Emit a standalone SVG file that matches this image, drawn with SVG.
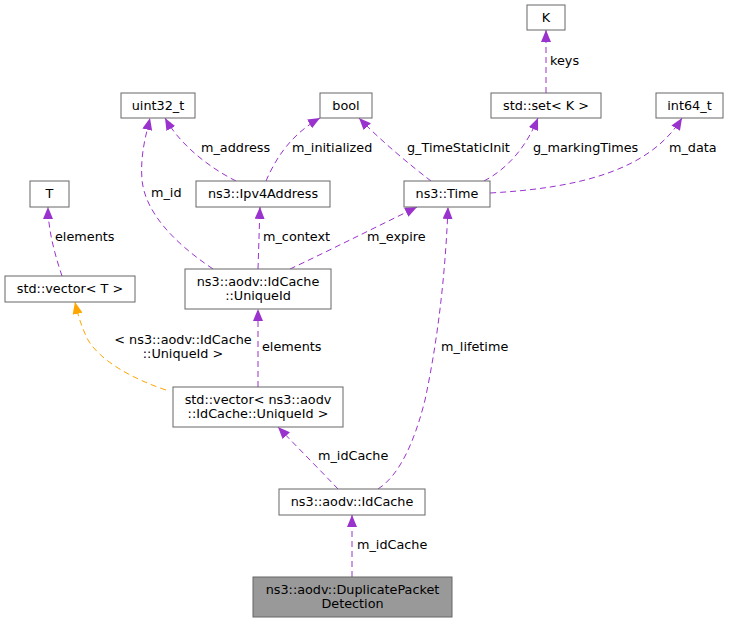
<svg xmlns="http://www.w3.org/2000/svg" width="729" height="623" viewBox="0 0 729 623">
<style>
.n rect{fill:#ffffff;stroke:#666666;stroke-width:1}
.n.main rect{fill:#999999}
text{font-family:"DejaVu Sans","Liberation Sans",sans-serif;font-size:12.8px;fill:#000000}
.n text{text-anchor:middle}
.e path{fill:none;stroke:#9a32cd;stroke-width:1;stroke-dasharray:6,4;marker-end:url(#ap)}
.e path.o{stroke:#ffa500;marker-end:url(#ao)}
</style>
<defs>
<marker id="ap" markerUnits="userSpaceOnUse" viewBox="0 0 12 10" markerWidth="12" markerHeight="10" refX="12" refY="5" orient="auto"><path d="M0,0 L12,5 L0,10 z" fill="#9a32cd"/></marker>
<marker id="ao" markerUnits="userSpaceOnUse" viewBox="0 0 12 10" markerWidth="12" markerHeight="10" refX="12" refY="5" orient="auto"><path d="M0,0 L12,5 L0,10 z" fill="#ffa500"/></marker>
</defs>
<g id="edges" class="e">
<path d="M546,93 L546,30"/>
<path d="M431,181 C410,165 380,140 359,118"/>
<path d="M484,181 C505,170 525,150 538,118"/>
<path d="M490,193 C580,188 650,170 682,118"/>
<path d="M236,181 C210,168 180,145 165,118"/>
<path d="M266,181 C275,160 290,135 320,118"/>
<path d="M213,269 C170,240 145,210 142,180 C140,155 146,135 150,118"/>
<path d="M258,269 L260,207"/>
<path d="M290,269 C320,255 370,230 417,207"/>
<path d="M62,276 C55,255 48,230 48,207"/>
<path class="o" d="M166,390 C130,378 100,360 88,340 C82,328 78,316 75,302"/>
<path d="M258,387 L258,309"/>
<path d="M338,489 C320,470 300,450 278,427"/>
<path d="M378,489 C400,475 415,440 425,400 C440,330 446,260 448,207"/>
<path d="M352,577 L352,515"/>
<text x="550" y="65">keys</text>
<text x="407" y="152">g_TimeStaticInit</text>
<text x="533" y="152">g_markingTimes</text>
<text x="669" y="152">m_data</text>
<text x="201" y="152">m_address</text>
<text x="292" y="152">m_initialized</text>
<text x="151" y="197">m_id</text>
<text x="263" y="241">m_context</text>
<text x="367" y="241">m_expire</text>
<text x="55" y="241">elements</text>
<text x="183" y="343.5" text-anchor="middle">&lt; ns3::aodv::IdCache</text>
<text x="183" y="358" text-anchor="middle">::UniqueId &gt;</text>
<text x="262" y="351">elements</text>
<text x="318" y="460">m_idCache</text>
<text x="441" y="351">m_lifetime</text>
<text x="357" y="549">m_idCache</text>
</g>
<g id="K" class="n"><rect x="527" y="5" width="38" height="25"/><text x="546" y="22">K</text></g>
<g id="set" class="n"><rect x="491" y="93" width="110" height="25"/><text x="546" y="110">std::set&lt; K &gt;</text></g>
<g id="int64" class="n"><rect x="656" y="93" width="67" height="25"/><text x="689.5" y="110">int64_t</text></g>
<g id="uint32" class="n"><rect x="121" y="93" width="74" height="25"/><text x="158" y="110">uint32_t</text></g>
<g id="bool" class="n"><rect x="320" y="93" width="52" height="25"/><text x="346" y="110">bool</text></g>
<g id="time" class="n"><rect x="404" y="181" width="86" height="26"/><text x="447" y="198">ns3::Time</text></g>
<g id="T" class="n"><rect x="30" y="181" width="39" height="26"/><text x="49.5" y="198">T</text></g>
<g id="ipv4" class="n"><rect x="196" y="181" width="134" height="26"/><text x="263" y="198">ns3::Ipv4Address</text></g>
<g id="vectorT" class="n"><rect x="5" y="276" width="130" height="26"/><text x="70" y="293">std::vector&lt; T &gt;</text></g>
<g id="uniqueid" class="n"><rect x="185" y="269" width="146" height="40"/><text x="258" y="285.5">ns3::aodv::IdCache</text><text x="258" y="300">::UniqueId</text></g>
<g id="vectorU" class="n"><rect x="173" y="387" width="170" height="40"/><text x="258" y="403.5">std::vector&lt; ns3::aodv</text><text x="258" y="418">::IdCache::UniqueId &gt;</text></g>
<g id="idcache" class="n"><rect x="279" y="489" width="146" height="26"/><text x="352" y="506">ns3::aodv::IdCache</text></g>
<g id="dpd" class="n main"><rect x="253" y="577" width="199" height="40"/><text x="352.5" y="593.5">ns3::aodv::DuplicatePacket</text><text x="352.5" y="608">Detection</text></g>
</svg>
